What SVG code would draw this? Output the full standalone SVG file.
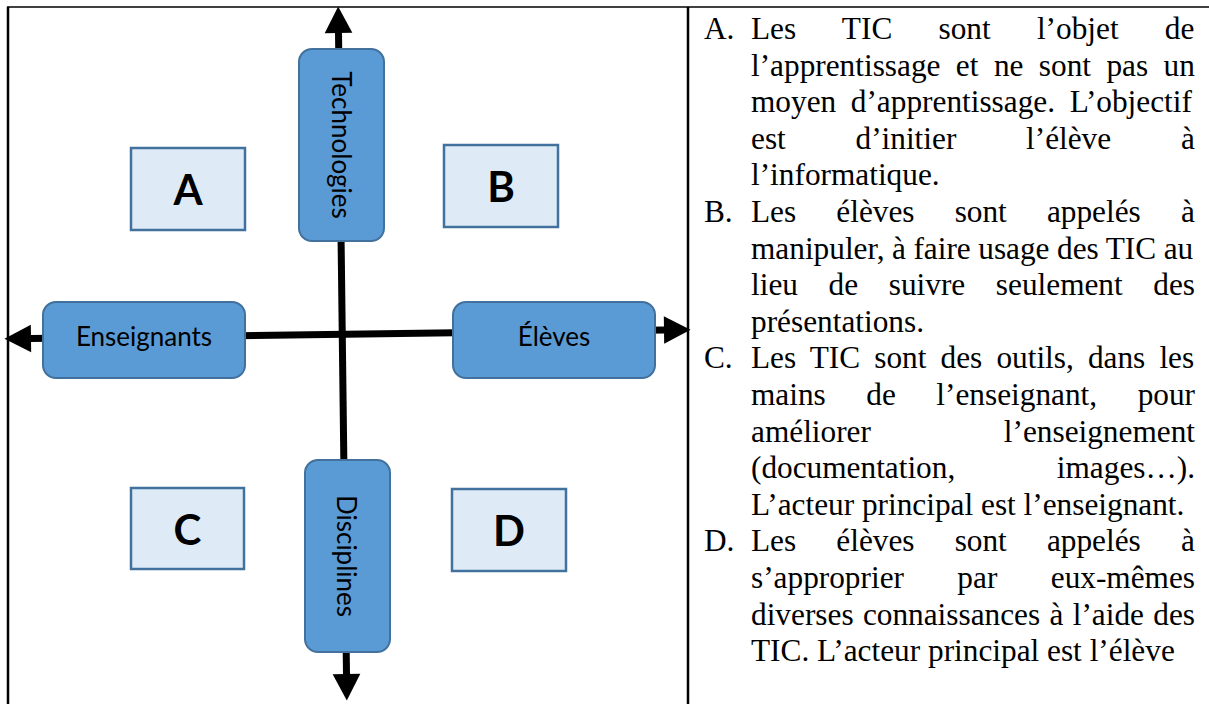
<svg xmlns="http://www.w3.org/2000/svg" width="1209" height="704" viewBox="0 0 1209 704">
<style>
.node rect{fill:#5B9BD5;stroke:#41719C;stroke-width:2}
.node text{font-family:Lato,"Open Sans",sans-serif;font-size:26px;fill:#000;text-anchor:middle;dominant-baseline:central}
.quad rect{fill:#DEEBF7;stroke:#41719C;stroke-width:2.5}
.quad text{font-family:Lato,"Open Sans",sans-serif;font-weight:bold;font-size:42px;fill:#000;text-anchor:middle}
.axis{stroke:#000;stroke-width:7;fill:none}
.frame{stroke:#000;fill:none}
.desc text{font-family:"Liberation Serif","Times New Roman",serif;font-size:31.3px;fill:#000}
.r{text-anchor:end}
</style>
<defs>
<marker id="head" markerUnits="userSpaceOnUse" markerWidth="30" markerHeight="30" viewBox="0 -13 24 26" refX="0" refY="0" orient="auto-start-reverse">
<path d="M0,-12 L23,0 L0,12 Z" fill="#000"/>
</marker>
</defs>
<rect width="1209" height="704" fill="#fff"/>
<g id="frame">
<line class="frame" x1="7" y1="7" x2="1209" y2="7" stroke-width="1.5"/>
<line class="frame" x1="8" y1="7" x2="8" y2="704" stroke-width="2.5"/>
<line class="frame" x1="688" y1="7" x2="688" y2="704" stroke-width="2.5"/>
</g>
<g id="connectors">
<path class="axis" d="M338.5,33 L346.5,674" marker-start="url(#head)" marker-end="url(#head)"/>
<path class="axis" d="M31,338.5 L664,330" marker-start="url(#head)" marker-end="url(#head)"/>
</g>
<g id="technologies" class="node">
<rect x="299" y="49" width="85" height="192" rx="13"/>
<text transform="translate(342,145) rotate(90)">Technologies</text>
</g>
<g id="disciplines" class="node">
<rect x="305" y="460" width="85" height="192" rx="13"/>
<text transform="translate(347,556) rotate(90)">Disciplines</text>
</g>
<g id="enseignants" class="node">
<rect x="43" y="302" width="202" height="76" rx="13"/>
<text x="144" y="336">Enseignants</text>
</g>
<g id="eleves" class="node">
<rect x="453" y="302" width="202" height="76" rx="13"/>
<text x="554" y="336">Élèves</text>
</g>
<g id="quadA" class="quad">
<rect x="131" y="148" width="114" height="82"/>
<text x="188" y="205">A</text>
</g>
<g id="quadB" class="quad">
<rect x="444" y="145" width="114" height="82"/>
<text x="501" y="202">B</text>
</g>
<g id="quadC" class="quad">
<rect x="131" y="488" width="113" height="81"/>
<text x="187.5" y="545">C</text>
</g>
<g id="quadD" class="quad">
<rect x="452" y="489" width="114" height="82"/>
<text x="509" y="546">D</text>
</g>
<g id="descriptions" class="desc">
<text x="704" y="39">A.</text>
<text x="751" y="39" word-spacing="38.4">Les TIC sont l’objet de</text>
<text x="751" y="75.6" word-spacing="7.6">l’apprentissage et ne sont pas un</text>
<text x="751" y="112.2" word-spacing="6.8">moyen d’apprentissage. L’objectif</text>
<text x="751" y="148.8" word-spacing="61.9">est d’initier l’élève à</text>
<text x="751" y="185.4">l’informatique.</text>
<text x="704" y="222">B.</text>
<text x="751" y="222" word-spacing="32.3">Les élèves sont appelés à</text>
<text x="751" y="258.6" word-spacing="-0.3">manipuler, à faire usage des TIC au</text>
<text x="751" y="295.2" word-spacing="22.8">lieu de suivre seulement des</text>
<text x="751" y="331.8">présentations.</text>
<text x="704" y="368.4">C.</text>
<text x="751" y="368.4" word-spacing="6.3">Les TIC sont des outils, dans les</text>
<text x="751" y="405" word-spacing="32.7">mains de l’enseignant, pour</text>
<text x="751" y="441.6">améliorer</text><text class="r" x="1195" y="441.6">l’enseignement</text>
<text x="751" y="478.2">(documentation,</text><text class="r" x="1195" y="478.2">images…).</text>
<text x="751" y="514.8">L’acteur principal est l’enseignant.</text>
<text x="704" y="551.4">D.</text>
<text x="751" y="551.4" word-spacing="32.3">Les élèves sont appelés à</text>
<text x="751" y="588" word-spacing="45.6">s’approprier par eux-mêmes</text>
<text x="751" y="624.6" word-spacing="1.5">diverses connaissances à l’aide des</text>
<text x="751" y="661.2">TIC. L’acteur principal est l’élève</text>
</g>
</svg>
